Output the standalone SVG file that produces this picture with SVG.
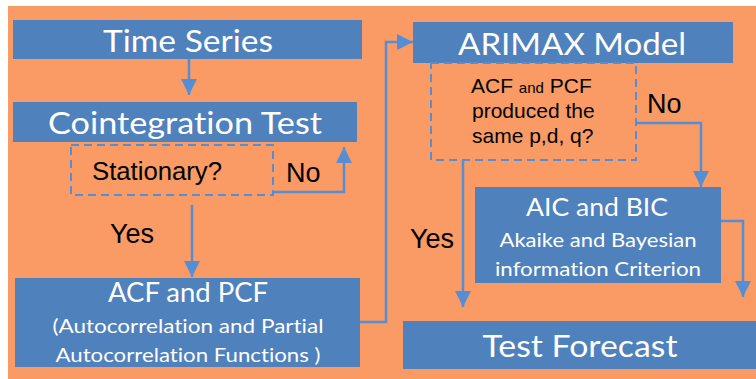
<svg xmlns="http://www.w3.org/2000/svg" width="756" height="379" viewBox="0 0 756 379">
<style>
.box{fill:#4F81BD}
.dash{fill:none;stroke:#558ED5;stroke-width:2;stroke-dasharray:8 5}
.w{fill:#fff;font-family:Lato,"Open Sans",sans-serif;text-anchor:middle;font-variant-ligatures:none}
.k{fill:#000;font-family:"Liberation Sans",Arial,sans-serif}
.c{fill:none;stroke:#558ED5;stroke-width:2.5}
</style>
<defs>
<marker id="ah" markerUnits="userSpaceOnUse" markerWidth="18" markerHeight="16" refX="16" refY="8" orient="auto">
<path d="M0,0 L16,8 L0,16 Z" fill="#558ED5"/>
</marker>
</defs>
<rect x="0" y="0" width="756" height="379" fill="#fff"/>
<rect x="8" y="6" width="748" height="373" fill="#FA9A64"/>
<g id="connectors">
<path class="c" d="M189,59 V95" marker-end="url(#ah)"/>
<path class="c" d="M274,192 H344 V147" marker-end="url(#ah)"/>
<path class="c" d="M192,205 V277" marker-end="url(#ah)"/>
<path class="c" d="M360,322 H386 V42 H413" marker-end="url(#ah)"/>
<path class="c" d="M636,123 H701 V187" marker-end="url(#ah)"/>
<path class="c" d="M463,160 V307" marker-end="url(#ah)"/>
<path class="c" d="M721,221 H743 V297" marker-end="url(#ah)"/>
</g>
<g id="time-series">
<rect class="box" x="13" y="20" width="349" height="39"/>
<text class="w" x="188" y="52" font-size="31" textLength="170" lengthAdjust="spacingAndGlyphs">Time Series</text>
</g>
<g id="cointegration-test">
<rect class="box" x="13" y="102" width="344" height="40"/>
<text class="w" x="185" y="134" font-size="31" textLength="274" lengthAdjust="spacingAndGlyphs">Cointegration Test</text>
</g>
<g id="stationary">
<rect class="dash" x="71" y="145" width="202" height="50"/>
<text class="k" x="92" y="180" font-size="25" textLength="130" lengthAdjust="spacingAndGlyphs">Stationary?</text>
</g>
<g id="labels">
<text class="k" x="286" y="182" font-size="27">No</text>
<text class="k" x="110" y="243" font-size="27">Yes</text>
<text class="k" x="647" y="113" font-size="27">No</text>
<text class="k" x="410" y="248" font-size="27">Yes</text>
</g>
<g id="acf-pcf">
<rect class="box" x="15" y="278" width="345" height="89"/>
<text class="w" x="188" y="302" font-size="26" textLength="160" lengthAdjust="spacingAndGlyphs">ACF and PCF</text>
<text class="w" x="188" y="333" font-size="20" textLength="271" lengthAdjust="spacingAndGlyphs">(Autocorrelation and Partial</text>
<text class="w" x="188" y="362" font-size="20" textLength="265" lengthAdjust="spacingAndGlyphs">Autocorrelation Functions )</text>
</g>
<g id="arimax-model">
<rect class="box" x="413" y="22" width="320" height="41"/>
<text class="w" x="572" y="55" font-size="31" textLength="228" lengthAdjust="spacingAndGlyphs">ARIMAX Model</text>
</g>
<g id="same-pdq">
<rect class="dash" x="431" y="63" width="205" height="97"/>
<text class="k" x="471" y="93" font-size="21">ACF <tspan font-size="15">and</tspan> PCF</text>
<text class="k" x="472" y="118" font-size="21">produced the</text>
<text class="k" x="472" y="143" font-size="21">same p,d, q?</text>
</g>
<g id="aic-bic">
<rect class="box" x="475" y="187" width="246" height="96"/>
<text class="w" x="597" y="216" font-size="25" textLength="142" lengthAdjust="spacingAndGlyphs">AIC and BIC</text>
<text class="w" x="598" y="247" font-size="20" textLength="197" lengthAdjust="spacingAndGlyphs">Akaike and Bayesian</text>
<text class="w" x="598" y="276" font-size="20" textLength="206" lengthAdjust="spacingAndGlyphs">information Criterion</text>
</g>
<g id="test-forecast">
<rect class="box" x="403" y="321" width="353" height="48"/>
<text class="w" x="580" y="357" font-size="31" textLength="195" lengthAdjust="spacingAndGlyphs">Test Forecast</text>
</g>
</svg>
